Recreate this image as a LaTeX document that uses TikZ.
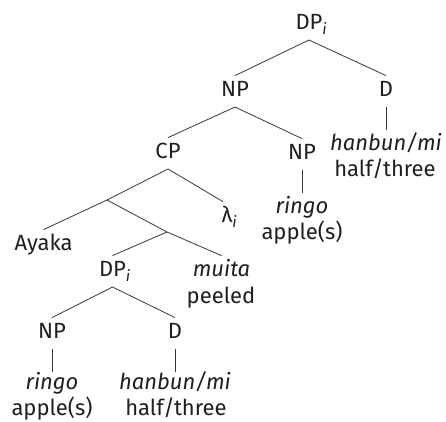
\documentclass[tikz,border=0pt]{standalone}
\usepackage{fontspec}
\setmainfont{Fira Sans}
\newcommand{\sub}[1]{\rlap{\textsubscript{\itshape #1}}}
\begin{document}
\begin{tikzpicture}[x=1pt,y=-1pt,
  lbl/.style={inner sep=0pt,text height=15pt,text depth=0pt,anchor=south,
    font=\fontsize{22}{27}\selectfont,text=black!88},
  gl/.style={inner sep=0pt,anchor=base,font=\fontsize{22}{27}\selectfont,text=black!88},
  br/.style={line width=0.8pt,draw=black!78}]
\useasboundingbox (0,0) rectangle (446,421);

% upper DP
\node[lbl] (dpTop) at (309,30) {DP\sub{i}};
\node[lbl] (npA) at (235,97) {NP};
\node[lbl] (dA) at (386,97) {D};
\node[lbl] (hanbunA) at (386,151) {\itshape hanbun/mi};
\node[gl] (halfA) at (385,176) {half/three};

% relative clause and head noun
\node[lbl] (cp) at (168,159) {CP};
\node[lbl] (npB) at (302,160) {NP};
\node[lbl] (ringoA) at (302,214) {\itshape ringo};
\node[gl] (appleA) at (302,239) {apple(s)};

\coordinate (x) at (107,200);
\node[lbl] (lam) at (227,223) {λ\sub{i}};
\node[lbl] (ayaka) at (43.5,251) {Ayaka};
\coordinate (y) at (167,232);
\node[lbl] (muita) at (221.5,277) {\itshape muita};
\node[gl] (peeled) at (221,303) {peeled};

% lower DP
\node[lbl] (dpB) at (112.5,277) {DP\sub{i}};
\node[lbl] (npC) at (52,339) {NP};
\node[lbl] (dC) at (175,339) {D};
\node[lbl] (ringoB) at (52,390) {\itshape ringo};
\node[gl] (appleB) at (52,415) {apple(s)};
\node[lbl] (hanbunB) at (175,390) {\itshape hanbun/mi};
\node[gl] (halfB) at (176,415) {half/three};

% branches
\draw[br] ([yshift=6pt]npA.north) -- ([yshift=-10pt]dpTop.south) -- ([yshift=6pt]dA.north);
\draw[br] ([yshift=-10pt]dA.south) -- ([yshift=6pt]hanbunA.north);
\draw[br] ([yshift=6pt]cp.north) -- ([yshift=-10pt]npA.south) -- ([yshift=6pt]npB.north);
\draw[br] ([yshift=-10pt]npB.south) -- ([yshift=6pt]ringoA.north);
\draw[br] (x) -- ([yshift=-10pt]cp.south) -- ([xshift=-4pt,yshift=6pt]lam.north);
\draw[br] ([yshift=6pt]ayaka.north) -- (x) -- (y) -- ([yshift=6pt]muita.north);
\draw[br] (y) -- ([yshift=6pt]dpB.north);
\draw[br] ([yshift=6pt]npC.north) -- ([yshift=-10pt]dpB.south) -- ([yshift=6pt]dC.north);
\draw[br] ([yshift=-10pt]npC.south) -- ([yshift=3pt]ringoB.north);
\draw[br] ([yshift=-10pt]dC.south) -- ([yshift=3pt]hanbunB.north);
\end{tikzpicture}
\end{document}
